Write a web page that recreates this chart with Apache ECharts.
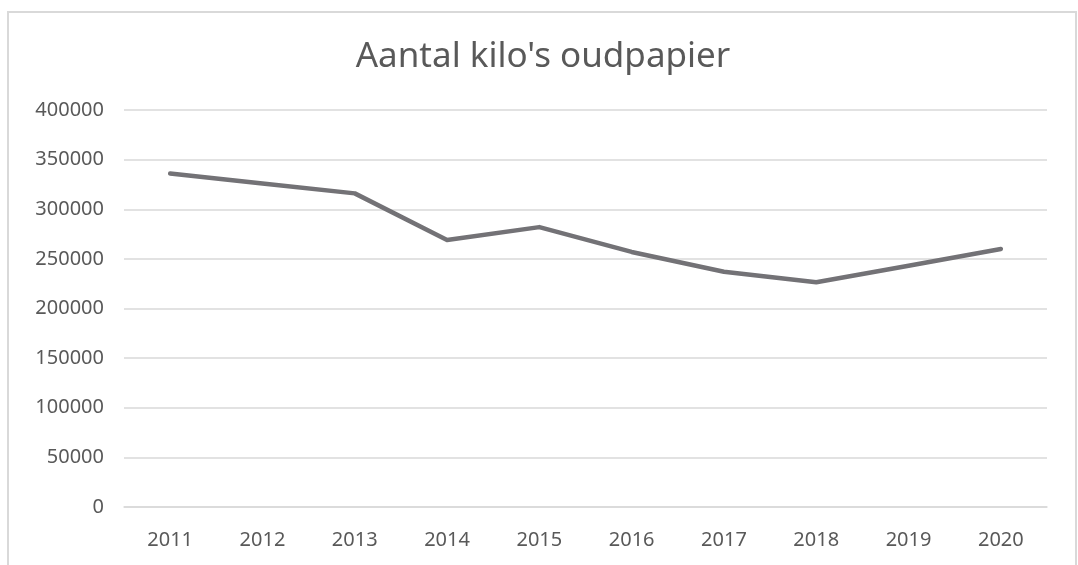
<!DOCTYPE html>
<html>
<head>
<meta charset="utf-8">
<script src="https://cdn.jsdelivr.net/npm/echarts@6/dist/echarts.min.js"></script>
<style>
html,body{margin:0;padding:0;background:#fff;}
#chart{width:1078px;height:565px;}
</style>
</head>
<body>
<div id="chart"></div>
<script>
const titleText = "Aantal kilo's oudpapier";
const years = ['2011','2012','2013','2014','2015','2016','2017','2018','2019','2020'];
const kilos = [336000, 326000, 316000, 269000, 282000, 257000, 237000, 226500, 243000, 260000];

const chart = echarts.init(document.getElementById('chart'));
chart.setOption({
  backgroundColor: '#ffffff',
  animation: false,
  graphic: [{
    type: 'rect',
    shape: { x: 8, y: 12, width: 1068, height: 570 },
    style: { fill: 'none', stroke: '#d9d9d9', lineWidth: 2 },
    silent: true
  }],
  title: {
    text: titleText,
    left: 538,
    textAlign: 'center',
    top: 35,
    textStyle: { fontFamily: 'Noto Sans', fontWeight: 'normal', fontSize: 35, color: '#595959' }
  },
  grid: { left: 124, right: 31, top: 110, bottom: 58 },
  xAxis: {
    type: 'category',
    data: years,
    boundaryGap: true,
    axisLine: { show: true, lineStyle: { color: '#d9d9d9', width: 1.5 } },
    axisTick: { show: false },
    axisLabel: { color: '#595959', fontSize: 20, fontFamily: 'Noto Sans', margin: 23 }
  },
  yAxis: {
    type: 'value',
    min: 0, max: 400000, interval: 50000,
    axisLine: { show: false },
    axisTick: { show: false },
    splitLine: { lineStyle: { color: '#d9d9d9', width: 1.5 } },
    axisLabel: { color: '#595959', fontSize: 20, fontFamily: 'Noto Sans', margin: 20,
      formatter: function (v) { return String(v); } }
  },
  series: [{
    type: 'line',
    data: kilos,
    symbol: 'none',
    lineStyle: { color: '#737276', width: 4.5, cap: 'round', join: 'round' }
  }]
});
</script>
</body>
</html>
